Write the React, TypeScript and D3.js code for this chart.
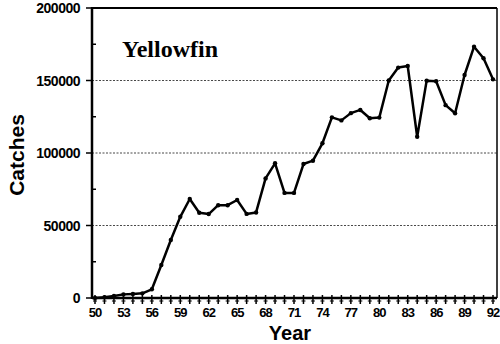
import React from "react";
import * as d3 from "d3";

const years = d3.range(1950, 1993);
const catches = [
  0, 500, 1400, 2500, 2800, 3200, 6000, 22800, 40000, 56000,
  68300, 58800, 57900, 64000, 64000, 67600, 58000, 59000, 82500, 92900,
  72500, 72500, 92400, 94700, 106700, 124600, 122500, 127500, 129700, 124000,
  124400, 150000, 158900, 160000, 111200, 149900, 149500, 133000, 127400, 153800,
  173300, 165300, 150800,
];
const yTicks = [0, 50000, 100000, 150000, 200000];
const xTickYears = d3.range(1950, 1993, 3);

const W = 500, H = 344;
const left = 92, right = 497, top = 8, bottom = 298;

export default function App() {
  const x = d3.scaleLinear().domain([1950, 1992]).range([95, 493]);
  const y = d3.scaleLinear().domain([0, 200000]).range([bottom, top]);
  const data = years.map((yr, i) => [yr, catches[i]] as [number, number]);
  const line = d3.line<[number, number]>().x(d => x(d[0])).y(d => y(d[1]));
  const minor = d3.range(25000, 200000, 50000);
  return (
    <svg width={W} height={H} style={{ position: "absolute", left: 0, top: 0, background: "#fff" }}>
      {/* grid */}
      {yTicks.slice(1, 4).map(t => (
        <line key={"g" + t} x1={left} x2={right} y1={y(t)} y2={y(t)} stroke="#333" strokeWidth={0.9} strokeDasharray="2,1.5" />
      ))}
      {/* frame */}
      <line x1={left} x2={right} y1={top} y2={top} stroke="#000" strokeWidth={2} />
      <line x1={right} x2={right} y1={top} y2={bottom} stroke="#000" strokeWidth={1.5} />
      <line x1={left} x2={left} y1={top - 1} y2={bottom + 1} stroke="#000" strokeWidth={2.5} />
      <line x1={left} x2={right} y1={bottom} y2={bottom} stroke="#000" strokeWidth={2.5} />
      {/* y ticks */}
      {yTicks.map(t => (
        <g key={"y" + t}>
          <line x1={left - 6} x2={left} y1={y(t)} y2={y(t)} stroke="#000" strokeWidth={1.5} />
          <text x={80} y={y(t) + 5} textAnchor="end" fontFamily="Liberation Sans, Arial" fontWeight="bold" fontSize={14} letterSpacing={-0.5}>{t}</text>
        </g>
      ))}
      {minor.map(t => (
        <line key={"m" + t} x1={left} x2={left + 4} y1={y(t)} y2={y(t)} stroke="#000" strokeWidth={1.5} />
      ))}
      {/* x ticks */}
      {years.map(yr => (
        <g key={"x" + yr}>
          <line x1={x(yr)} x2={x(yr)} y1={bottom - 3} y2={bottom + 6} stroke="#000" strokeWidth={1.5} />
          <line x1={x(yr) - 2} x2={x(yr) + 2} y1={bottom + 3} y2={bottom + 3} stroke="#000" strokeWidth={1} />
        </g>
      ))}
      {xTickYears.map(yr => (
        <text key={"xl" + yr} x={x(yr)} y={317} textAnchor="middle" fontFamily="Liberation Sans, Arial" fontWeight="bold" fontSize={13} letterSpacing={-1}>{String(yr).slice(2)}</text>
      ))}
      {/* series */}
      <path d={line(data) || ""} fill="none" stroke="#000" strokeWidth={2.5} strokeLinejoin="round" />
      {data.map(d => (
        <circle key={"p" + d[0]} cx={x(d[0])} cy={y(d[1])} r={2.2} fill="#000" />
      ))}
      {/* labels */}
      <text x={122} y={57} fontFamily="Liberation Serif, Times New Roman" fontWeight="bold" fontSize={24}>Yellowfin</text>
      <text x={290} y={340} textAnchor="middle" fontFamily="Liberation Sans, Arial" fontWeight="bold" fontSize={20}>Year</text>
      <text transform={`translate(24,${(top + bottom) / 2 + 2}) rotate(-90)`} textAnchor="middle" fontFamily="Liberation Sans, Arial" fontWeight="bold" fontSize={21}>Catches</text>
    </svg>
  );
}
